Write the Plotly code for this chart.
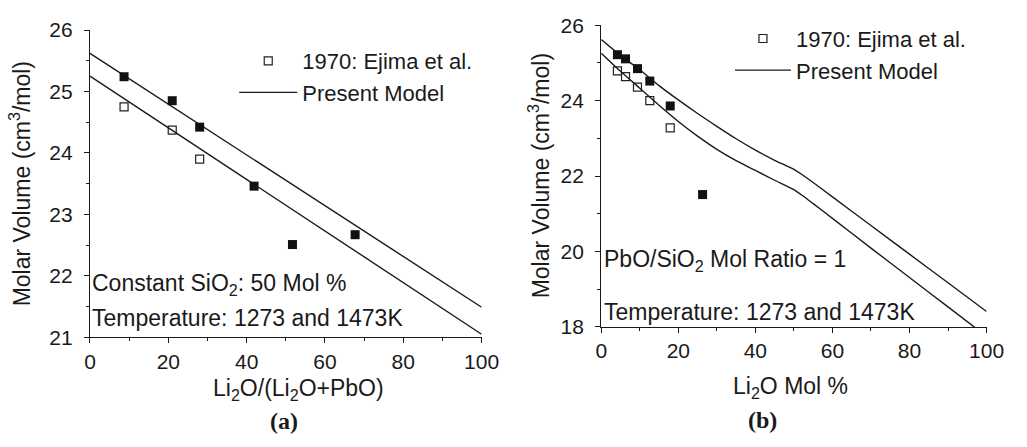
import plotly.graph_objects as go

# ---------------- data ----------------
# Panel (a): constant SiO2 50 mol %
a_x_filled = [8.7, 21.0, 28.0, 41.9, 51.7, 67.7]
a_y_filled = [25.24, 24.85, 24.42, 23.46, 22.51, 22.67]
a_x_open = [8.7, 21.0, 28.0]
a_y_open = [24.75, 24.37, 23.90]
a_model_x = [0, 100]
a_model_upper = [25.62, 21.49]
a_model_lower = [25.25, 21.05]

# Panel (b): PbO/SiO2 mol ratio = 1
b_x_filled = [4.2, 6.3, 9.4, 12.6, 17.9, 26.3]
b_y_filled = [25.22, 25.11, 24.85, 24.52, 23.86, 21.51]
b_x_open = [4.2, 6.3, 9.4, 12.6, 17.9]
b_y_open = [24.79, 24.64, 24.36, 24.00, 23.28]
b_model_x = [0, 5, 10, 15, 20, 25, 30, 35, 40, 45, 50, 52, 55, 60, 70, 80, 90, 100]
b_model_upper = [25.62, 25.20, 24.82, 24.40, 24.02, 23.66, 23.32, 22.99, 22.69, 22.42,
                 22.18, 22.05, 21.83, 21.45, 20.69, 19.93, 19.17, 18.41]
b_model_lower = [25.26, 24.78, 24.33, 23.88, 23.45, 23.06, 22.71, 22.41, 22.15, 21.89,
                 21.64, 21.50, 21.27, 20.88, 20.09, 19.31, 18.53, 17.75]

FONT = "Arial, Liberation Sans, sans-serif"
INK = "#1a1a1a"
FS_TICK = 21
FS_TEXT = 23
FS_LEG = 22

fig = go.Figure()

def add_panel(xa, ya, legend, xf, yf, xo, yo, mx, mu, ml):
    fig.add_trace(go.Scatter(x=xo, y=yo, mode="markers", name="1970: Ejima et al.",
                             marker=dict(symbol="square-open", size=8, color="#222",
                                         line=dict(width=1.2, color="#222")),
                             xaxis=xa, yaxis=ya, legend=legend, cliponaxis=False))
    fig.add_trace(go.Scatter(x=mx, y=mu, mode="lines", name="Present Model",
                             line=dict(color=INK, width=1.4, shape="spline", smoothing=0.6),
                             xaxis=xa, yaxis=ya, legend=legend))
    fig.add_trace(go.Scatter(x=mx, y=ml, mode="lines", showlegend=False,
                             line=dict(color=INK, width=1.4, shape="spline", smoothing=0.6),
                             xaxis=xa, yaxis=ya))
    fig.add_trace(go.Scatter(x=xf, y=yf, mode="markers", showlegend=False,
                             marker=dict(symbol="square", size=9, color="#111"),
                             xaxis=xa, yaxis=ya, cliponaxis=False))

add_panel("x", "y", "legend", a_x_filled, a_y_filled, a_x_open, a_y_open,
          a_model_x, a_model_upper, a_model_lower)
add_panel("x2", "y2", "legend2", b_x_filled, b_y_filled, b_x_open, b_y_open,
          b_model_x, b_model_upper, b_model_lower)

W, H = 1027, 447
def px(v): return v / W
def py(v): return 1 - v / H

axis_common = dict(showline=True, linecolor=INK, linewidth=1.2, ticks="outside",
                   ticklen=5, tickwidth=1.2, tickcolor=INK, showgrid=False, zeroline=False,
                   tickfont=dict(family=FONT, size=FS_TICK, color=INK), mirror=False)

fig.update_layout(
    width=W, height=H, margin=dict(l=0, r=0, t=0, b=0),
    paper_bgcolor="white", plot_bgcolor="white",
    xaxis=dict(domain=[px(86), px(487)], range=[0, 100], dtick=20,
               minor=dict(dtick=10, ticklen=3, tickcolor=INK, ticks="outside"),
               anchor="y", **axis_common),
    yaxis=dict(domain=[py(343), py(19)], range=[21, 26], dtick=1, ticklabelstandoff=7,
               minor=dict(dtick=0.5, ticklen=3, tickcolor=INK, ticks="outside"),
               anchor="x", **axis_common),
    xaxis2=dict(domain=[px(609.5), px(1004)], range=[0, 100], dtick=20,
                minor=dict(dtick=10, ticklen=3, tickcolor=INK, ticks="outside"),
                anchor="y2", **axis_common),
    yaxis2=dict(domain=[py(332), py(14)], range=[18, 26], dtick=2, ticklabelstandoff=7,
                minor=dict(dtick=1, ticklen=3, tickcolor=INK, ticks="outside"),
                anchor="x2", **axis_common),
    legend=dict(x=px(233.7), y=py(29.5), xanchor="left", yanchor="top", itemwidth=58,
                font=dict(family=FONT, size=FS_LEG, color=INK), bgcolor="rgba(0,0,0,0)",
                tracegroupgap=0),
    legend2=dict(x=px(741.3), y=py(6), xanchor="left", yanchor="top", itemwidth=56,
                 font=dict(family=FONT, size=FS_LEG, color=INK), bgcolor="rgba(0,0,0,0)",
                 tracegroupgap=0),
    showlegend=True,
)

def ann(text, x, y, xanchor="center", size=FS_TEXT, family=FONT, angle=0):
    fig.add_annotation(text=text, x=px(x), y=py(y), xref="paper", yref="paper",
                       xanchor=xanchor, yanchor="middle", showarrow=False, textangle=angle,
                       font=dict(family=family, size=size, color=INK))

# axis titles
ann("Li<sub>2</sub>O/(Li<sub>2</sub>O+PbO)", 300, 398.5)
ann("Li<sub>2</sub>O Mol %", 803, 395.5)
ann("Molar Volume (cm<sup>3</sup>/mol)", 14, 181, angle=-90)
ann("Molar Volume (cm<sup>3</sup>/mol)", 546, 173, angle=-90)
# panel labels
ann("<b>(a)</b>", 285, 431, size=24, family="Times New Roman, Liberation Serif, serif")
ann("<b>(b)</b>", 775, 430, size=24, family="Times New Roman, Liberation Serif, serif")
# in-plot notes
ann("Constant SiO<sub>2</sub>: 50 Mol %", 86, 287, xanchor="left")
ann("Temperature: 1273 and 1473K", 86, 322.5, xanchor="left")
ann("PbO/SiO<sub>2</sub> Mol Ratio = 1", 610, 262, xanchor="left")
ann("Temperature: 1273 and 1473K", 610, 316, xanchor="left")

fig.write_html("out.html")
